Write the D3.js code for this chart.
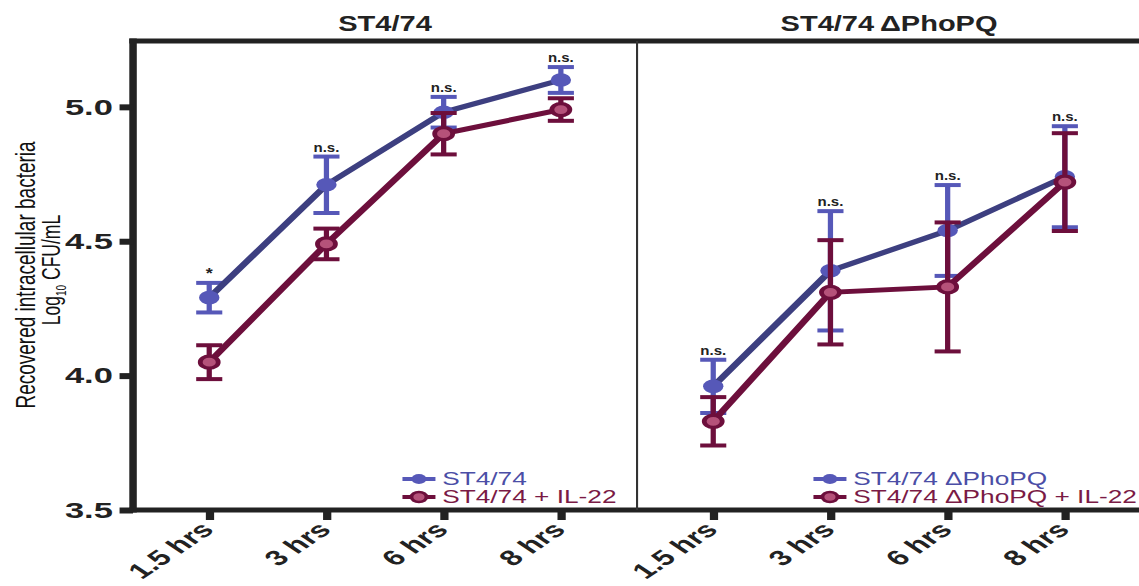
<!DOCTYPE html>
<html>
<head>
<meta charset="utf-8">
<script src="https://cdn.jsdelivr.net/npm/d3@7"></script>
<style>
body { margin: 0; background: #fff; }
text { font-family: "Liberation Sans", Arial, sans-serif; }
</style>
</head>
<body>
<script>
// time points and panel titles
var times = ["1.5 hrs", "3 hrs", "6 hrs", "8 hrs"];
var panelTitles = ["ST4/74", "ST4/74\u2009\u0394PhoPQ"];
var yTicks = [3.5, 4.0, 4.5, 5.0];

// left panel: wild type, mean and error (log10 CFU/mL)
var wtMean = [4.29, 4.71, 4.98, 5.10];
var wtErr = [0.055, 0.105, 0.057, 0.048];
var wtIlMean = [4.05, 4.49, 4.90, 4.99];
var wtIlErr = [0.063, 0.057, 0.077, 0.042];

// right panel: PhoPQ mutant
var phoMean = [3.96, 4.39, 4.54, 4.74];
var phoErr = [0.099, 0.222, 0.169, 0.188];
var phoIlMean = [3.83, 4.31, 4.33, 4.72];
var phoIlErr = [0.09, 0.194, 0.24, 0.182];

// significance marks above each time point
var wtSig = ["*", "n.s.", "n.s.", "n.s."];
var phoSig = ["n.s.", "n.s.", "n.s.", "n.s."];

var legendWt = ["ST4/74", "ST4/74 + IL-22"];
var legendPho = ["ST4/74 \u0394PhoPQ", "ST4/74 \u0394PhoPQ + IL-22"];

//the original figure is stretched sideways, so draw in a narrow frame and scale it
var sx = 1.5,
    W = 1139,
    H = 586,
    vw = W / sx;

var svg = d3.select("body")
    .append("svg")
    .attr("width", W)
    .attr("height", H);

var g = svg.append("g")
    .attr("transform", "scale(" + sx + ",1)");

var blueLine = "#3d3f80",
    blue = "#5658b8",
    maroon = "#6d0f3c",
    pink = "#b5527a",
    ink = "#222";

var y = d3.scaleLinear()
    .domain([3.5, 5.245])
    .range([510, 41]);

var panelLeft = [88.7, 424.7],
    panelW = 336,
    legendX = [279.3, 553.3];

var panels = [
    { title: panelTitles[0], sig: wtSig, legend: legendWt,
      series: [{ mean: wtMean, err: wtErr, kind: "blue" }, { mean: wtIlMean, err: wtIlErr, kind: "maroon" }] },
    { title: panelTitles[1], sig: phoSig, legend: legendPho,
      series: [{ mean: phoMean, err: phoErr, kind: "blue" }, { mean: phoIlMean, err: phoIlErr, kind: "maroon" }] }
];

//frame lines
g.append("line").attr("x1", 88.7).attr("x2", 88.7).attr("y1", 38.5).attr("y2", 512.5)
    .attr("stroke", ink).attr("stroke-width", 5);
g.append("line").attr("x1", 86.2).attr("x2", vw + 10).attr("y1", 41).attr("y2", 41)
    .attr("stroke", ink).attr("stroke-width", 5);
g.append("line").attr("x1", 86.2).attr("x2", vw + 10).attr("y1", 510).attr("y2", 510)
    .attr("stroke", ink).attr("stroke-width", 5);
g.append("line").attr("x1", panelLeft[1]).attr("x2", panelLeft[1]).attr("y1", 41).attr("y2", 510)
    .attr("stroke", "#333").attr("stroke-width", 1.4);

//y axis
var yAxis = g.append("g")
    .attr("transform", "translate(88.7,0)")
    .call(d3.axisLeft(y).tickValues(yTicks).tickFormat(d3.format(".1f")).tickSize(9).tickPadding(4.5));
yAxis.select(".domain").remove();
yAxis.selectAll("line").attr("stroke", ink).attr("stroke-width", 6);
yAxis.selectAll("text")
    .attr("fill", ink)
    .style("font-size", "23px")
    .style("font-weight", "bold");

//y axis title
g.append("text")
    .attr("transform", "translate(23.3,275) rotate(-90)")
    .attr("text-anchor", "middle")
    .style("font-size", "19px")
    .attr("fill", "#111")
    .text("Recovered intracellular bacteria");

var yt2 = g.append("text")
    .attr("transform", "translate(40,270) rotate(-90)")
    .attr("text-anchor", "middle")
    .style("font-size", "17.5px")
    .attr("fill", "#111");
yt2.append("tspan").text("Log");
yt2.append("tspan").attr("dy", 4).style("font-size", "10px").text("10");
yt2.append("tspan").attr("dy", -4).text(" CFU/mL");

panels.forEach(function (p, i) {
    var x = d3.scalePoint()
        .domain(times)
        .range([panelLeft[i], panelLeft[i] + panelW])
        .padding(0.65);

    //panel title
    g.append("text")
        .attr("transform", "translate(" + (panelLeft[i] + panelW / 2) + ",31) scale(0.88,1)")
        .attr("text-anchor", "middle")
        .style("font-size", "22px")
        .style("font-weight", "bold")
        .attr("fill", ink)
        .text(p.title);

    //x axis ticks
    var xAxis = g.append("g")
        .attr("transform", "translate(0,510)")
        .call(d3.axisBottom(x).tickSize(10).tickFormat(""));
    xAxis.select(".domain").remove();
    xAxis.selectAll("line").attr("stroke", ink).attr("stroke-width", 5.5);

    g.selectAll(".xlab" + i)
        .data(times)
        .enter()
        .append("text")
        .attr("class", "xlab" + i)
        .attr("transform", function (d) { return "translate(" + (x(d) + 4) + ",531) rotate(-45)"; })
        .attr("text-anchor", "end")
        .style("font-size", "21.5px")
        .style("font-weight", "bold")
        .attr("fill", ink)
        .text(function (d) { return d; });

    //series: error bars, line, markers
    p.series.forEach(function (s) {
        var isBlue = s.kind === "blue";
        var barCol = isBlue ? blue : maroon;
        var pts = times.map(function (t, k) { return { t: t, m: s.mean[k], e: s.err[k] }; });

        var eb = g.append("g");
        eb.selectAll(".stem")
            .data(pts).enter().append("line")
            .attr("x1", function (d) { return x(d.t); })
            .attr("x2", function (d) { return x(d.t); })
            .attr("y1", function (d) { return y(d.m - d.e); })
            .attr("y2", function (d) { return y(d.m + d.e); })
            .attr("stroke", barCol).attr("stroke-width", 3.5);
        [-1, 1].forEach(function (sgn) {
            eb.selectAll(".cap" + sgn)
                .data(pts).enter().append("line")
                .attr("x1", function (d) { return x(d.t) - 8.7; })
                .attr("x2", function (d) { return x(d.t) + 8.7; })
                .attr("y1", function (d) { return y(d.m + sgn * d.e); })
                .attr("y2", function (d) { return y(d.m + sgn * d.e); })
                .attr("stroke", barCol).attr("stroke-width", 4);
        });

        g.append("path")
            .datum(pts)
            .attr("fill", "none")
            .attr("stroke", isBlue ? blueLine : maroon)
            .attr("stroke-width", 5)
            .attr("d", d3.line().x(function (d) { return x(d.t); }).y(function (d) { return y(d.m); }));

        g.selectAll(".mk" + i + s.kind)
            .data(pts).enter().append("circle")
            .attr("cx", function (d) { return x(d.t); })
            .attr("cy", function (d) { return y(d.m); })
            .attr("r", isBlue ? 6.8 : 6)
            .attr("fill", isBlue ? blue : pink)
            .attr("stroke", isBlue ? "none" : maroon)
            .attr("stroke-width", 3.2);
    });

    //significance labels above the highest error bar
    g.selectAll(".sig" + i)
        .data(times)
        .enter()
        .append("text")
        .attr("transform", function (d, k) {
            var top = d3.max(p.series, function (s) { return s.mean[k] + s.err[k]; });
            return "translate(" + x(d) + "," + (y(top) - 5) + ") scale(0.8,1)";
        })
        .attr("text-anchor", "middle")
        .style("font-size", function (d, k) { return p.sig[k] === "*" ? "15px" : "12.5px"; })
        .style("font-weight", "bold")
        .attr("fill", ink)
        .text(function (d, k) { return p.sig[k]; });

    //legend
    var lx = legendX[i];
    p.legend.forEach(function (name, k) {
        var ly = 479 + k * 18;
        var isBlue = k === 0;
        g.append("line")
            .attr("x1", lx - 11).attr("x2", lx + 11)
            .attr("y1", ly).attr("y2", ly)
            .attr("stroke", isBlue ? blue : maroon)
            .attr("stroke-width", 4);
        g.append("circle")
            .attr("cx", lx).attr("cy", ly)
            .attr("r", 5)
            .attr("fill", isBlue ? blue : pink)
            .attr("stroke", isBlue ? "none" : maroon)
            .attr("stroke-width", 2.5);
        g.append("text")
            .attr("x", lx + 15.5)
            .attr("y", ly)
            .attr("dy", "0.36em")
            .style("font-size", "17.5px")
            .attr("fill", isBlue ? "#4b4ea6" : "#7a1a45")
            .text(name);
    });
});
</script>
</body>
</html>
